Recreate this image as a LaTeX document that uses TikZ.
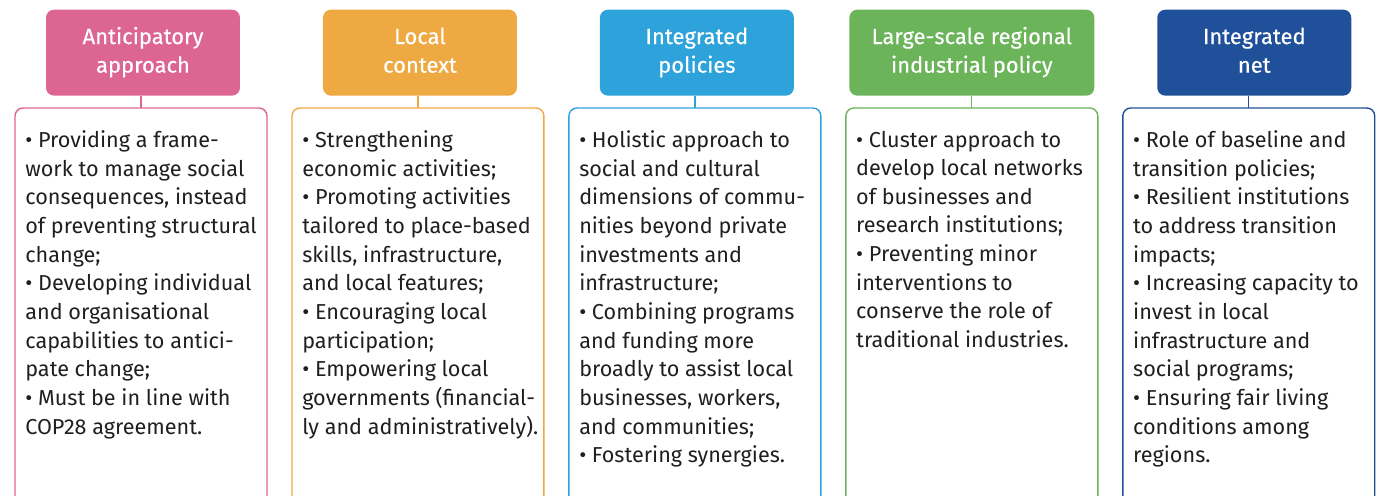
\documentclass[tikz,border=0pt]{standalone}
\usepackage{fontspec}
\setmainfont{Fira Sans}
\newfontfamily\headfont{Fira Sans}[FakeBold=0.3]
\usetikzlibrary{positioning}
\definecolor{anticolor}{HTML}{DD6592}
\definecolor{localcolor}{HTML}{EEA942}
\definecolor{policolor}{HTML}{2EA3DB}
\definecolor{indcolor}{HTML}{6BB45A}
\definecolor{netcolor}{HTML}{21509A}
\tikzset{
  head/.style={
    rectangle,
    rounded corners=0.16cm,
    fill=#1,
    text=white,
    align=center,
    minimum width=3.88cm,
    minimum height=1.72cm,
    inner sep=0pt,
    font=\headfont\fontsize{12.5}{16.3}\selectfont
  },
  panel/.style={
    rectangle,
    rounded corners=0.16cm,
    draw=#1,
    line width=0.8pt,
    outer sep=0pt,
    minimum width=5.04cm,
    minimum height=8.4cm,
    inner sep=0pt
  },
  items/.style={
    anchor=north west,
    align=left,
    inner sep=0pt,
    text=black!88,
    font=\fontsize{12.3}{16.3}\selectfont
  },
  link/.style={draw=#1, line width=0.7pt}
}
\begin{document}
\begin{tikzpicture}[x=0.02cm, y=-0.02cm]
  \useasboundingbox (0,0) rectangle (1380,496);
  \clip (0,0) rectangle (1380,496);

  % panels
  \node[panel=anticolor, anchor=north] (b1) at (141,108) {};
  \node[panel=localcolor, right=0.5cm of b1] (b2) {};
  \node[panel=policolor, right=0.5cm of b2] (b3) {};
  \node[panel=indcolor, right=0.5cm of b3] (b4) {};
  \node[panel=netcolor, right=0.5cm of b4] (b5) {};

  % headers
  \node[head=anticolor, above=0.24cm of b1.north, xshift=0.04cm] (h1)
        {\strut Anticipatory\\approach\strut};
  \node[head=localcolor, above=0.24cm of b2.north, xshift=0.04cm] (h2)
        {\strut Local\\context\strut};
  \node[head=policolor, above=0.24cm of b3.north, xshift=0.04cm] (h3)
        {\strut Integrated\\policies\strut};
  \node[head=indcolor, above=0.24cm of b4.north, minimum width=4.9cm] (h4)
        {\strut Large-scale regional\\industrial policy\strut};
  \node[head=netcolor, above=0.24cm of b5.north, xshift=0.11cm] (h5)
        {\strut Integrated\\net\strut};

  \draw[link=anticolor] (b1.north) -- (b1.north |- h1.south);
  \draw[link=localcolor] (b2.north) -- (b2.north |- h2.south);
  \draw[link=policolor] (b3.north) -- (b3.north |- h3.south);
  \draw[link=indcolor] (b4.north) -- (b4.north |- h4.south);
  \draw[link=netcolor] (b5.north) -- (b5.north |- h5.south);

  % texts
  \node[items] (t1) at ([shift={(0.2cm,-0.45cm)}]b1.north west)
        {• Providing a frame-\\work to manage social\\consequences, instead\\of preventing structural\\change;\\• Developing individual\\and organisational\\capabilities to antici-\\pate change;\\• Must be in line with\\COP28 agreement.};
  \node[items] (t2) at ([shift={(0.2cm,-0.45cm)}]b2.north west)
        {• Strengthening\\economic activities;\\• Promoting activities\\tailored to place-based\\skills, infrastructure,\\and local features;\\• Encouraging local\\participation;\\• Empowering local\\governments (financial-\\ly and administratively).};
  \node[items] (t3) at ([shift={(0.2cm,-0.45cm)}]b3.north west)
        {• Holistic approach to\\social and cultural\\dimensions of commu-\\nities beyond private\\investments and\\infrastructure;\\• Combining programs\\and funding more\\broadly to assist local\\businesses, workers,\\and communities;\\• Fostering synergies.};
  \node[items] (t4) at ([shift={(0.2cm,-0.45cm)}]b4.north west)
        {• Cluster approach to\\develop local networks\\of businesses and\\research institutions;\\• Preventing minor\\interventions to\\conserve the role of\\traditional industries.};
  \node[items] (t5) at ([shift={(0.2cm,-0.45cm)}]b5.north west)
        {• Role of baseline and\\transition policies;\\• Resilient institutions\\to address transition\\impacts;\\• Increasing capacity to\\invest in local\\infrastructure and\\social programs;\\• Ensuring fair living\\conditions among\\regions.};
\end{tikzpicture}
\end{document}
